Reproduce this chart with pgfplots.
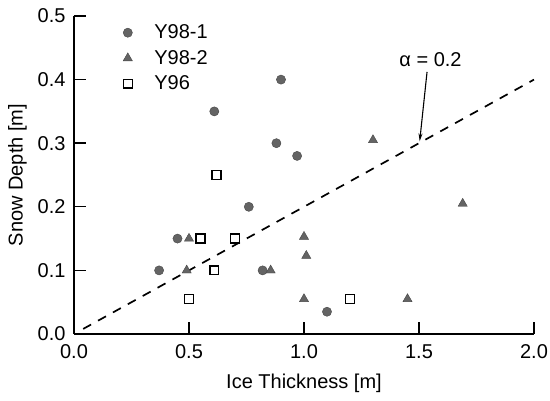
\documentclass[border=0pt]{standalone}
\usepackage{fontspec}
\setmainfont{Liberation Sans}
\usepackage{pgfplots}
\pgfplotsset{compat=1.18}
\usetikzlibrary{arrows.meta}

\definecolor{markgray}{RGB}{100,100,100}

\begin{document}
\begin{tikzpicture}
\begin{axis}[
  scale only axis,
  width=460pt, height=318pt,
  xmin=0, xmax=2, ymin=0, ymax=0.5,
  axis x line=bottom, axis y line=left,
  axis line style={-, line width=1.6pt},
  xtick={0,0.5,1,1.5,2},
  ytick={0,0.1,0.2,0.3,0.4,0.5},
  tick align=inside,
  major tick length=12pt,
  tick style={line width=1.4pt, black},
  /pgf/number format/.cd, fixed, fixed zerofill, precision=1, assume math mode=true,
  /pgfplots/.cd,
  tick label style={font=\fontsize{20}{22}\selectfont},
  label style={font=\fontsize{20}{22}\selectfont},
  xlabel={Ice Thickness [m]},
  ylabel={Snow Depth [m]},
  xticklabel style={yshift=-7pt},
  yticklabel style={xshift=-5pt},
  xlabel style={yshift=-8pt},
  ylabel style={yshift=4pt},
  clip=false,
  legend style={draw=none, fill=none, at={(rel axis cs:0.10,0.985)}, anchor=north west,
    font=\fontsize{20}{22}\selectfont, row sep=6pt,
    /tikz/every odd column/.append style={column sep=20pt}},
  legend cell align=left,
]
\coordinate (sw) at (rel axis cs:0,0);
% Y98-1 measurements
\addplot[only marks, mark=*, mark size=4.6pt, draw=markgray!70!black, fill=markgray]
  coordinates {
  (0.37,0.10) (0.45,0.15) (0.76,0.20) (0.82,0.10) (0.61,0.35)
  (0.90,0.40) (0.88,0.30) (0.97,0.28) (1.10,0.035)
  };
\addlegendentry{Y98-1}
% Y98-2 measurements
\addplot[only marks, mark=triangle*, mark size=5.3pt, draw=markgray!70!black, fill=markgray]
  coordinates {
  (0.50,0.15) (0.49,0.10) (0.855,0.10) (1.00,0.153) (1.01,0.123)
  (1.00,0.055) (1.45,0.055) (1.69,0.205) (1.30,0.305)
  };
\addlegendentry{Y98-2}
% Y96 measurements
\addplot[only marks, mark=square, mark size=4.4pt, draw=black, line width=1.4pt, fill=white]
  coordinates {
  (0.55,0.15) (0.70,0.15) (0.61,0.10) (0.50,0.055) (0.62,0.25) (1.20,0.055)
  };
\addlegendentry{Y96}
% snow depth = alpha * ice thickness
\addplot[black, line width=1.7pt, dash pattern=on 9pt off 8pt, forget plot]
  coordinates {(0.04,0.008) (2.0,0.4)};
\draw[line width=1.1pt, -{Stealth[length=8pt,width=4pt]}] (axis cs:1.535,0.412) -- (axis cs:1.503,0.303);
\node[font=\fontsize{20}{22}\selectfont] at (axis cs:1.55,0.432) {α = 0.2};
\end{axis}
\pgfresetboundingbox
\path[use as bounding box] (sw) ++(-74pt,-67pt) rectangle ++(550pt,401pt);
\end{tikzpicture}
\end{document}
